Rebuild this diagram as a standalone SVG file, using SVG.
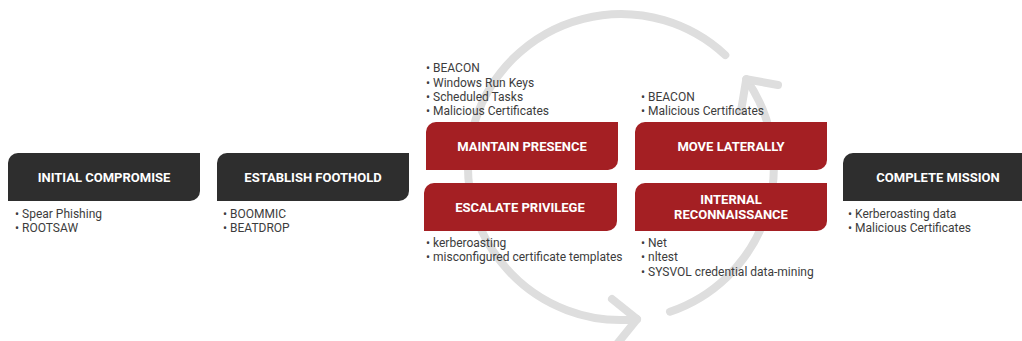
<svg xmlns="http://www.w3.org/2000/svg" width="1022" height="341" viewBox="0 0 1022 341">
<style>
.dark{fill:#2e2e2e}
.red{fill:#a41f23}
.lbl{font-family:Roboto,"Liberation Sans",sans-serif;font-weight:bold;font-size:13px;fill:#ffffff;text-anchor:middle}
.bul{font-family:Roboto,"Liberation Sans",sans-serif;font-size:12px;fill:#3c3c3c}
.arc{fill:none;stroke:#dedede;stroke-width:8;stroke-linecap:round;stroke-linejoin:round}
</style>
<rect width="1022" height="341" fill="#ffffff"/>
<g id="connectors">
<path class="arc" d="M725.3,55.1 A153,153 0 1 0 637,319.2"/>
<path class="arc" d="M612,299 L637,319.2 L617,344"/>
<path class="arc" d="M670,311.7 A153,153 0 0 0 746.3,79.2"/>
<path class="arc" d="M778,85 L746.3,79.2 L741,111"/>
</g>
<g id="initial-compromise">
<path class="dark" d="M8,201 V163 A10,10 0 0 1 18,153 H200 V191 A10,10 0 0 1 190,201 Z"/>
<text class="lbl" x="104" y="182">INITIAL COMPROMISE</text>
<text class="bul" x="15" y="218">• Spear Phishing</text>
<text class="bul" x="15" y="232">• ROOTSAW</text>
</g>
<g id="establish-foothold">
<path class="dark" d="M217,201 V163 A10,10 0 0 1 227,153 H409 V191 A10,10 0 0 1 399,201 Z"/>
<text class="lbl" x="313" y="182">ESTABLISH FOOTHOLD</text>
<text class="bul" x="223" y="218">• BOOMMIC</text>
<text class="bul" x="223" y="232">• BEATDROP</text>
</g>
<g id="maintain-presence">
<path class="red" d="M426,170 V132 A10,10 0 0 1 436,122 H618 V160 A10,10 0 0 1 608,170 Z"/>
<text class="lbl" x="522" y="151">MAINTAIN PRESENCE</text>
<text class="bul" x="426" y="72">• BEACON</text>
<text class="bul" x="426" y="87">• Windows Run Keys</text>
<text class="bul" x="426" y="101">• Scheduled Tasks</text>
<text class="bul" x="426" y="115">• Malicious Certificates</text>
</g>
<g id="move-laterally">
<path class="red" d="M635,170 V132 A10,10 0 0 1 645,122 H827 V160 A10,10 0 0 1 817,170 Z"/>
<text class="lbl" x="731" y="151">MOVE LATERALLY</text>
<text class="bul" x="641" y="101">• BEACON</text>
<text class="bul" x="641" y="115">• Malicious Certificates</text>
</g>
<g id="escalate-privilege">
<path class="red" d="M424,231 V193 A10,10 0 0 1 434,183 H617 V221 A10,10 0 0 1 607,231 Z"/>
<text class="lbl" x="520" y="212">ESCALATE PRIVILEGE</text>
<text class="bul" x="426" y="247">• kerberoasting</text>
<text class="bul" x="426" y="261">• misconfigured certificate templates</text>
</g>
<g id="internal-reconnaissance">
<path class="red" d="M635,231 V193 A10,10 0 0 1 645,183 H827 V221 A10,10 0 0 1 817,231 Z"/>
<text class="lbl" x="731" y="204">INTERNAL</text>
<text class="lbl" x="731" y="219">RECONNAISSANCE</text>
<text class="bul" x="641" y="247">• Net</text>
<text class="bul" x="641" y="261">• nltest</text>
<text class="bul" x="641" y="276">• SYSVOL credential data-mining</text>
</g>
<g id="complete-mission">
<path class="dark" d="M843,201 V163 A10,10 0 0 1 853,153 H1022 V201 Z"/>
<text class="lbl" x="938" y="182">COMPLETE MISSION</text>
<text class="bul" x="848" y="218">• Kerberoasting data</text>
<text class="bul" x="848" y="232">• Malicious Certificates</text>
</g>
</svg>
